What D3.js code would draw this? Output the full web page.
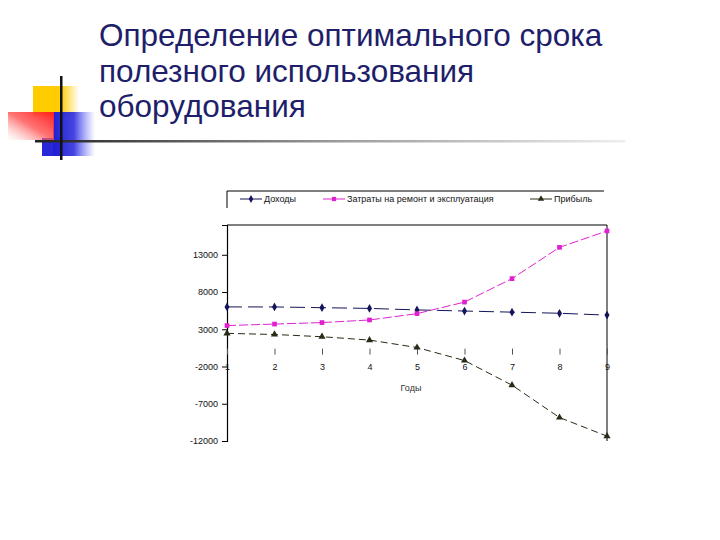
<!DOCTYPE html>
<html>
<head>
<meta charset="utf-8">
<style>
body { margin: 0; background: #fff; }
svg { display: block; font-family: "Liberation Sans", Arial, sans-serif; }
</style>
</head>
<body>
<svg width="720" height="540"></svg>
<script src="https://cdnjs.cloudflare.com/ajax/libs/d3/7.8.5/d3.min.js"></script>
<script>
// data
var years = [1, 2, 3, 4, 5, 6, 7, 8, 9];
var income = [6000, 6000, 5900, 5800, 5600, 5450, 5300, 5150, 4900];
var costs = [3500, 3700, 3900, 4250, 5100, 6650, 9800, 14000, 16200];
var profit = [2450, 2300, 2000, 1550, 550, -1200, -4500, -8850, -11350];
var yTicks = [-12000, -7000, -2000, 3000, 8000, 13000];
var titleLines = ["Определение оптимального срока", "полезного использования", "оборудования"];

var svg = d3.select("svg");

// --- slide decoration ---
var defs = svg.append("defs");
function grad(id, x1, x2, y1, y2, stops) {
  var g = defs.append("linearGradient").attr("id", id)
    .attr("x1", x1).attr("x2", x2).attr("y1", y1).attr("y2", y2);
  stops.forEach(function(s) {
    g.append("stop").attr("offset", s[0]).attr("stop-color", s[1]).attr("stop-opacity", s[2]);
  });
}
grad("gYellow", 0, 1, 0, 0, [[0, "#ffcc00", 1], [0.6, "#ffcc00", 1], [1, "#ffcc00", 0]]);
grad("gRed", 1, 0, 0, 1, [[0, "#ff2020", 1], [0.5, "#ff5050", 0.8], [1, "#ffaaaa", 0]]);
grad("gBlue", 0, 1, 0, 0, [[0, "#2020d0", 1], [0.5, "#3030e0", 0.9], [1, "#6060ff", 0]]);
grad("gLine", 0, 1, 0, 0, [[0, "#222", 1], [0.5, "#999", 1], [1, "#eee", 1]]);

svg.append("rect").attr("x", 33).attr("y", 86).attr("width", 46).attr("height", 30).attr("fill", "url(#gYellow)");
svg.append("rect").attr("x", 42).attr("y", 138).attr("width", 20).attr("height", 18).attr("fill", "#2828d8");
svg.append("rect").attr("x", 53).attr("y", 112).attr("width", 42).attr("height", 44).attr("fill", "url(#gBlue)");
svg.append("rect").attr("x", 8).attr("y", 112).attr("width", 46).attr("height", 28).attr("fill", "url(#gRed)");
svg.append("rect").attr("x", 35).attr("y", 140).attr("width", 590).attr("height", 2.5).attr("fill", "url(#gLine)");
svg.append("rect").attr("x", 60).attr("y", 76).attr("width", 2.5).attr("height", 84).attr("fill", "#111");

svg.append("g").selectAll("text").data(titleLines).enter().append("text")
  .attr("x", 99)
  .attr("y", function(d, i) { return 46 + i * 35.5; })
  .attr("fill", "#1e1e6a")
  .attr("font-size", 31.5)
  .text(function(d) { return d; });

// --- chart ---
var plotL = 227, plotR = 607, plotT = 225, plotB = 441;
var x = d3.scaleLinear().domain([1, 9]).range([plotL, plotR]);
var y = d3.scaleLinear().domain([-12000, 17000]).range([plotB, plotT]);

// plot frame (top and right)
svg.append("path")
  .attr("d", "M" + plotL + "," + plotT + "H" + plotR + "V" + plotB)
  .attr("fill", "none").attr("stroke", "#000").attr("stroke-width", 1);

var yAxis = svg.append("g")
  .attr("transform", "translate(" + plotL + ",0)")
  .call(d3.axisLeft(y).tickValues(yTicks).tickSize(5).tickPadding(4).tickFormat(function(d) { return String(d); }));
yAxis.select(".domain").attr("stroke-width", 1.2);
yAxis.selectAll("text").attr("font-size", 9).attr("fill", "#111").attr("font-family", "Liberation Sans, Arial, sans-serif");

var xAxis = svg.append("g")
  .attr("transform", "translate(0," + y(0) + ")")
  .call(d3.axisBottom(x).tickValues(years).tickSizeInner(6).tickSizeOuter(0).tickPadding(6).tickFormat(function(d) { return String(d); }));
xAxis.select(".domain").remove();
xAxis.selectAll(".tick line").attr("y1", -3).attr("y2", 3).attr("stroke", "#555");
xAxis.selectAll("text").attr("font-size", 9).attr("fill", "#111").attr("font-family", "Liberation Sans, Arial, sans-serif");

svg.append("text").attr("x", 411).attr("y", 391).attr("text-anchor", "middle")
  .attr("font-size", 9).attr("fill", "#333").text("Годы");

var series = [
  { name: "Доходы", values: income, color: "#14145a", dash: "15,6", marker: d3.symbolDiamond, size: 22 },
  { name: "Затраты на ремонт и эксплуатация", values: costs, color: "#e020d0", dash: "9,3", marker: d3.symbolSquare, size: 22 },
  { name: "Прибыль", values: profit, color: "#2a2a18", dash: "7,4", marker: d3.symbolTriangle, size: 22 }
];

var line = d3.line().x(function(d, i) { return x(years[i]); }).y(function(d) { return y(d); });

series.forEach(function(s) {
  svg.append("path").attr("d", line(s.values))
    .attr("fill", "none").attr("stroke", s.color).attr("stroke-width", 1)
    .attr("stroke-dasharray", s.dash);
  svg.append("g").selectAll("path").data(s.values).enter().append("path")
    .attr("transform", function(d, i) { return "translate(" + x(years[i]) + "," + y(d) + ")"; })
    .attr("d", d3.symbol().type(s.marker).size(s.size))
    .attr("fill", s.color);
});

// legend
var leg = svg.append("g");
leg.append("path").attr("d", "M227,208V191H604")
  .attr("fill", "none").attr("stroke", "#000").attr("stroke-width", 1);
var legX = [240, 323, 530];
series.forEach(function(s, i) {
  var g = leg.append("g").attr("transform", "translate(" + legX[i] + ",199)");
  g.append("line").attr("x1", 0).attr("x2", 22).attr("stroke", s.color).attr("stroke-width", 1);
  g.append("path").attr("transform", "translate(11,0)")
    .attr("d", d3.symbol().type(s.marker).size(18)).attr("fill", s.color);
  g.append("text").attr("x", 24).attr("y", 3).attr("font-size", 9).attr("fill", "#111").text(s.name);
});
</script>
</body>
</html>
